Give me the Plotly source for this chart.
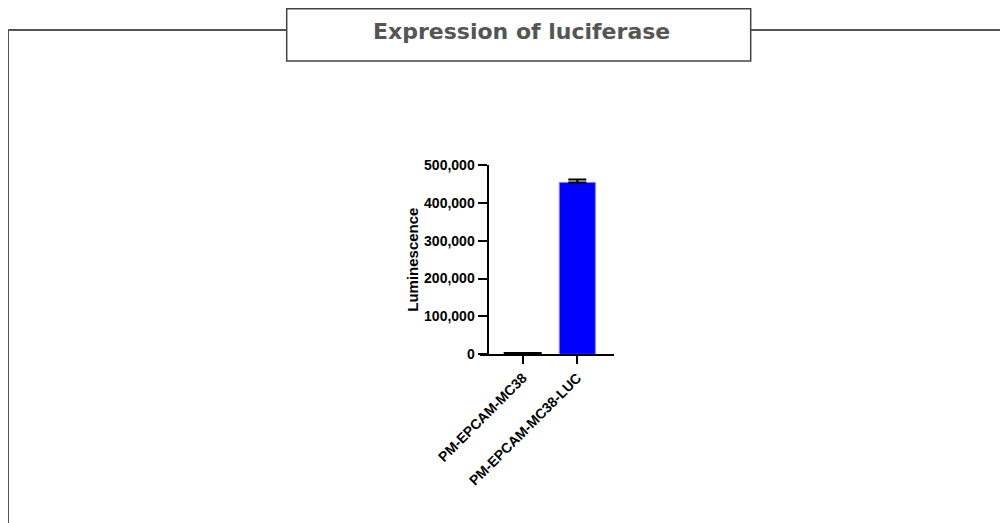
import plotly.graph_objects as go

# ---- data ----
categories = ["PM-EPCAM-MC38", "PM-EPCAM-MC38-LUC"]
luminescence = [3500, 454000]
error_plus = [0, 8000]
y_ticks = [0, 100000, 200000, 300000, 400000, 500000]
y_ticklabels = ["0", "100,000", "200,000", "300,000", "400,000", "500,000"]
title_text = "Expression of luciferase"
y_title = "Luminescence"

# the page body has an 8px margin, so the figure is sized to fill the rest of the window
OFF = 8
W, H = 1008 - OFF, 523 - OFF

def px(x):
    return (x - OFF) / W

def py(y):
    return 1 - (y - OFF) / H

fig = go.Figure()
fig.add_trace(go.Bar(
    x=categories,
    y=luminescence,
    width=0.66,
    marker=dict(color=["#ffffff", "#0000ff"],
                line=dict(color=["#000000", "#7f7fff"], width=[2, 1])),
    error_y=dict(type="data", symmetric=False, array=error_plus,
                 arrayminus=[0, 0], color="#000000", thickness=2, width=9),
    showlegend=False,
))

axis_font = dict(family="Arial, Liberation Sans, sans-serif", size=14, color="#000000", weight="bold")

fig.update_layout(
    template="none",
    width=W, height=H,
    margin=dict(l=0, r=0, t=0, b=0, pad=0, autoexpand=False),
    paper_bgcolor="#ffffff",
    plot_bgcolor="#ffffff",
    xaxis=dict(
        domain=[px(480), px(614)],
        range=[-0.782, 1.672],
        automargin=False,
        showline=True, linecolor="#000000", linewidth=2,
        ticks="outside", ticklen=8, tickwidth=2, tickcolor="#000000",
        tickangle=-45, tickfont=axis_font,
        showgrid=False, zeroline=False,
        anchor="y",
    ),
    yaxis=dict(
        domain=[py(354.3), py(165)],
        range=[0, 500000],
        automargin=False,
        anchor="free", position=px(487.5),
        showline=True, linecolor="#000000", linewidth=2,
        ticks="outside", ticklen=9, tickwidth=2, tickcolor="#000000",
        tickvals=y_ticks, ticktext=y_ticklabels,
        tickfont=axis_font,
        title=dict(text=y_title, font=dict(family="Arial, Liberation Sans, sans-serif", size=15, color="#000000", weight="bold"), standoff=1),
        showgrid=False, zeroline=False,
    ),
)

frame_color = "#555555"
shapes = [
    # left horizontal line
    dict(type="line", xref="paper", yref="paper", x0=0, x1=px(286.7), y0=py(30), y1=py(30),
         line=dict(color=frame_color, width=2)),
    # right horizontal line
    dict(type="line", xref="paper", yref="paper", x0=px(750.7), x1=1, y0=py(30), y1=py(30),
         line=dict(color=frame_color, width=2)),
    # left vertical line
    dict(type="line", xref="paper", yref="paper", x0=0, x1=0, y0=py(29), y1=0,
         line=dict(color=frame_color, width=2)),
    # title box
    dict(type="rect", xref="paper", yref="paper", x0=px(286.7), x1=px(750.7), y0=py(61), y1=py(8.8),
         line=dict(color="#444444", width=1.5), fillcolor="#ffffff"),
]
fig.update_layout(shapes=shapes)

fig.add_annotation(
    x=px(521), y=py(31), xref="paper", yref="paper",
    text=title_text, showarrow=False,
    xanchor="center", yanchor="middle",
    font=dict(family="DejaVu Sans, sans-serif", size=22, color="#555555", weight="bold"),
)

fig.write_html("out.html")
